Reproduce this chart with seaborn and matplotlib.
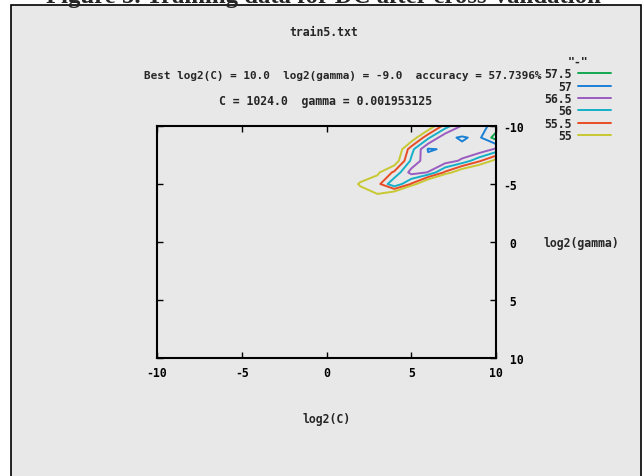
import matplotlib
matplotlib.use("Agg")
import matplotlib.pyplot as plt
import seaborn as sns
import pandas as pd
from matplotlib.lines import Line2D
from matplotlib.patches import Rectangle

# cross-validation grid (log2 C across, log2 gamma down), accuracy in %
log2c = [0, 1, 2, 3, 4, 5, 6, 7, 8, 9, 10]
log2g = [-10, -9, -8, -7, -6, -5, -4, -3]
accuracy = [
    [49.5, 50.0, 50.5, 51.0, 52.0, 53.5, 54.5, 55.75, 56.55, 56.8, 57.2],
    [49.5, 50.0, 50.5, 51.5, 53.5, 54.57, 55.9, 56.9, 57.05, 56.9, 57.7396],
    [50.0, 50.5, 51.5, 53.0, 54.3, 55.8, 57.05, 56.95, 56.9, 56.95, 56.4],
    [50.5, 51.0, 52.0, 53.0, 54.6, 56.1, 56.85, 56.8, 56.4, 55.6, 54.8],
    [51.0, 52.5, 54.5, 54.9, 55.6, 56.7, 56.48, 55.4, 54.4, 53.9, 53.0],
    [52.0, 54.39, 55.1, 55.3, 56.45, 55.45, 54.0, 52.7, 52.0, 51.5, 51.0],
    [51.5, 53.8, 54.6, 54.95, 54.2, 52.3, 51.5, 51.0, 50.5, 50.0, 50.0],
    [50.5, 52.0, 53.0, 53.0, 52.0, 51.0, 50.5, 50.0, 50.0, 49.5, 49.5],
]
levels = [55, 55.5, 56, 56.5, 57, 57.5]
level_labels = ["55", "55.5", "56", "56.5", "57", "57.5"]
level_colors = ["#c8c832", "#e84c24", "#14b0c8", "#9a5cc0", "#1a80d6", "#14a850"]

xticks = [-10, -5, 0, 5, 10]
xticklabels = ["-10", "-5", "0", "5", "10"]
yticks = [-10, -5, 0, 5, 10]
yticklabels = ["-10", "-5", " 0", " 5", " 10"]

df = pd.DataFrame(accuracy, index=log2g, columns=log2c)

sns.set_theme(style="white")
plt.rcParams["font.family"] = ["DejaVu Sans Mono"]
plt.rcParams["font.weight"] = "bold"
plt.rcParams["axes.unicode_minus"] = False

W, H = 644, 477
fig = plt.figure(figsize=(W / 100, H / 100), dpi=100)
fig.patch.set_facecolor("white")

panel = Rectangle((11 / W, -0.1), (641 - 11) / W, 1 - 6 / H + 0.1,
                  transform=fig.transFigure, facecolor="#e7e8e7",
                  edgecolor="black", lw=1.2, zorder=0)
fig.add_artist(panel)

fig.text(323 / W, 1 - 3 / H, "Figure 5. Training data for DC after cross-validation",
         family="Liberation Serif", weight="bold", fontsize=17.8,
         ha="center", va="baseline")

ax = fig.add_axes([157 / W, 1 - 359 / H, 339 / W, 232 / H])
ax.set_facecolor("none")

cs = ax.contour(df.columns, df.index, df.values, levels=levels,
                colors=level_colors, linewidths=1.4)

ax.set_xlim(-10, 10)
ax.set_ylim(10, -10)
ax.set_xticks(xticks)
ax.set_xticklabels(xticklabels)
ax.set_yticks(yticks)
ax.set_yticklabels(yticklabels)
ax.tick_params(axis="x", direction="in", top=True, bottom=True, length=4.5,
               width=1, pad=6, labelsize=8.3, colors="black")
ax.tick_params(axis="y", direction="in", left=True, right=True, length=4,
               width=1, pad=5, labelsize=8.3, labelleft=False, labelright=True,
               colors="black")
for lab in ax.get_yticklabels():
    lab.set_horizontalalignment("left")
for s in ax.spines.values():
    s.set_color("black")
    s.set_linewidth(1.5)

ax.set_xlabel("log2(C)", fontsize=8.3, va="center", weight="bold")
ax.xaxis.set_label_coords(0.5, (359 - 420) / 232)
ax.set_ylabel("log2(gamma)", fontsize=8.3, rotation=0, ha="center",
              va="center", weight="bold")
ax.yaxis.set_label_coords((581 - 157) / 339, (359 - 244) / 232)

fig.text(324 / W, 1 - 33 / H, "train5.txt", fontsize=8.3, ha="center", va="center")
fig.text(343 / W, 1 - 76 / H,
         "Best log2(C) = 10.0  log2(gamma) = -9.0  accuracy = 57.7396%",
         fontsize=7.9, ha="center", va="center")
fig.text(326 / W, 1 - 102 / H, "C = 1024.0  gamma = 0.001953125",
         fontsize=8.3, ha="center", va="center")

handles = [Line2D([], [], color=c, lw=1.4) for c in level_colors[::-1]]
leg = fig.legend(handles, level_labels[::-1], loc="upper right",
                 bbox_to_anchor=(617 / W, 1 - 50 / H), frameon=False,
                 markerfirst=False, title='"-"', handlelength=2.9,
                 handletextpad=0.5, labelspacing=-0.05, borderpad=0,
                 prop={"family": "DejaVu Sans Mono", "weight": "bold", "size": 8.3},
                 title_fontproperties={"family": "DejaVu Sans Mono",
                                       "weight": "bold", "size": 8.3})
for t in leg.get_texts():
    t.set_horizontalalignment("right")

fig.savefig("out.png", dpi=100)
